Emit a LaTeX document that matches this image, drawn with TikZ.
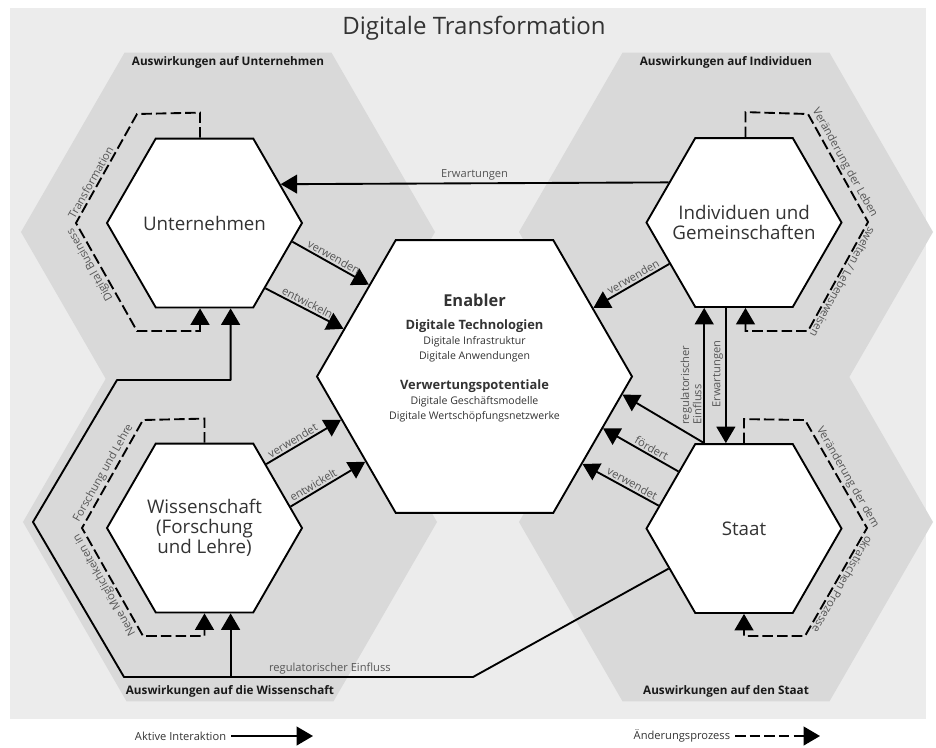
\documentclass[tikz,border=0pt]{standalone}
\usepackage{fontspec}
\setmainfont{Open Sans}
\usepackage{tikz}
\usetikzlibrary{arrows.meta}
\usetikzlibrary{calc}
\usetikzlibrary{shapes.geometric,positioning}

\definecolor{bgback}{HTML}{ECECEC}
\definecolor{bggroup}{HTML}{D9D9D9}
\definecolor{txtdark}{HTML}{333333}
\definecolor{txtlight}{HTML}{555555}

\begin{document}
\begin{tikzpicture}[
        x=0.03cm, y=-0.03cm,
        group/.style={regular polygon, regular polygon sides=6, minimum size=12.42cm, inner sep=0pt, fill=bggroup},
        actor/.style={regular polygon, regular polygon sides=6, minimum size=5.85cm, inner sep=0pt, draw, line width=1.6pt, fill=white},
        acttext/.style={align=center, text=txtdark, font=\fontsize{16}{17}\selectfont},
        enabler/.style={regular polygon, regular polygon sides=6, minimum size=9.45cm, inner sep=0pt, draw, line width=1.6pt, fill=white},
        grouplabel/.style={font=\fontsize{10}{12}\selectfont\bfseries, text=black!90},
        arrow/.style={-{Triangle[width=16pt,length=14pt]}, line width=1.6pt},
        change/.style={-{Triangle[width=16pt,length=14pt]}, line width=1.6pt, dash pattern=on 9pt off 3.5pt},
        lbl/.style={font=\fontsize{9.5}{10.5}\selectfont, text=txtlight, inner sep=1.5pt},
    ]
        % background and frame
        \useasboundingbox (0,0) rectangle (936,747);
        \fill[bgback] (10,8) rectangle (926,719);
        \node[font=\fontsize{20.5}{24}\selectfont, text=txtdark] (title) at (474,28) {Digitale Transformation};

        % areas of impact
        \node[group] (gunt) at (228,232) {};
        \node[group] (gind) at (726,232) {};
        \node[group] (gwis) at (230,522) {};
        \node[group] (gsta) at (726,522) {};
        \node[grouplabel, below=0pt of gunt.north] (lunt) {Auswirkungen auf Unternehmen};
        \node[grouplabel, below=0pt of gind.north] (lind) {Auswirkungen auf Individuen};
        \node[grouplabel, above=0pt of gwis.south] (lwis) {Auswirkungen auf die Wissenschaft};
        \node[grouplabel, above=0pt of gsta.south] (lsta) {Auswirkungen auf den Staat};

        % actors
        \node[actor, label={[acttext]center:Unternehmen}] (unt) at (204.5,223) {};
        \node[actor, label={[acttext]center:{Individuen und\\Gemeinschaften}}] (ind) at (744,222.5) {};
        \node[actor, label={[acttext]center:{Wissenschaft\\(Forschung\\und Lehre)}}] (wis) at (204.5,528) {};
        \node[actor, label={[acttext]center:Staat}] (sta) at (744,528.5) {};

        % enabler in the middle
        \node[enabler] (ena) at (474.5,376.5) {};
        \node[align=center, text=txtdark, font=\fontsize{9}{12.8}\selectfont] (enatxt) at (474.5,358) {%
            {\fontsize{14}{16}\selectfont\bfseries Enabler}\\[7pt]
            {\fontsize{11}{13}\selectfont\bfseries Digitale Technologien}\\
            Digitale Infrastruktur\\
            Digitale Anwendungen\\[13pt]
            {\fontsize{11}{13}\selectfont\bfseries Verwertungspotentiale}\\
            Digitale Geschäftsmodelle\\
            Digitale Wertschöpfungsnetzwerke};

        % active interaction
        \draw[arrow] (unt.-12.9) -- node[lbl, above, sloped] {verwenden} (ena.139.6);
        \draw[arrow] (unt.-47.1) -- node[lbl, above, sloped] {entwickeln} (ena.160.7);
        \draw[arrow] (wis.46.1) -- node[lbl, above, sloped, pos=0.4] {verwendet} (ena.198.7);
        \draw[arrow] (wis.14.1) -- node[lbl, above, sloped, pos=0.35] {entwickelt} (ena.218.7);
        \draw[arrow] (ind.152.1) -- node[lbl, above] {Erwartungen} (unt.27);
        \draw[arrow] (ind.209.3) -- node[lbl, above, sloped, pos=0.43] {verwenden} (ena.30.4);
        \draw[arrow] (sta.139.4) -- node[lbl, above, sloped, pos=0.4] {fördert} (ena.-22.2);
        \draw[arrow] (sta.165.3) -- node[lbl, above, sloped, pos=0.39] {verwendet} (ena.-39.2);
        \draw[arrow] (sta.north -| ind.245.2) -- node[lbl, rotate=90, anchor=south, align=left, pos=0.43] {regulatorischer\\Einfluss} (ind.245.2);
        \draw[arrow] (sta.north -| ind.245.2) -- (ena.-7.9);
        \draw[arrow] (ind.258) -- node[lbl, rotate=90, anchor=south, pos=0.49] {Erwartungen} (ind.258 |- sta.north);

        % regulation from the state
        \coordinate (rb) at (473,677);
        \coordinate (rt) at (117,380);
        \draw[arrow, line join=round] (sta.208.4) -- (rb) -- node[lbl, above, pos=0.41] {regulatorischer Einfluss} (124,677)
            -- (33,522) -- (rt) -- (unt.-73.7 |- rt) -- (unt.-73.7);
        \draw[arrow] (wis.-73.1 |- rb) -- (wis.-73.1);

        % change processes
        \draw[change] (unt.93.7) -- ++(0,-25) -- (137,114)
            -- node[lbl, pos=0.66, rotate=60.8, anchor=south] {Transformation} (76,223)
            -- node[lbl, pos=0.35, rotate=119.5, anchor=south] {Digital Business} (137,331)
            -- (unt.-93.7 |- 0,331) -- (unt.-93.7);
        \draw[change] (ind.89.3) -- ++(0,-25) -- (808,114)
            -- node[lbl, pos=0.49, rotate=-61, anchor=south] {Veränderung der Leben} (868,222)
            -- node[lbl, pos=0.52, rotate=241.2, anchor=south] {swelten / Lebensweisen} (808,331)
            -- (ind.-89.3 |- 0,331) -- (ind.-89.3);
        \draw[change] (wis.north) -- ++(0,-24) -- (143,420)
            -- node[lbl, pos=0.53, rotate=60.5, anchor=south] {Forschung und Lehre} (82,528)
            -- node[lbl, pos=0.49, rotate=119.5, anchor=south] {Neue Möglichkeiten in} (143,636)
            -- (wis.south |- 0,636) -- (wis.south);
        \draw[change] (sta.90.7) -- ++(0,-24) -- (805,420)
            -- node[lbl, pos=0.57, rotate=-60.1, anchor=south] {Veränderung der dem} (867,528)
            -- node[lbl, pos=0.49, rotate=240.1, anchor=south] {okratischen Prozesse} (805,636)
            -- (sta.-90.7 |- 0,636) -- (sta.-90.7);

        % legend
        \node[lbl, anchor=east, text=txtdark, inner sep=4pt] (legact) at (231,736) {Aktive Interaktion};
        \coordinate (legactend) at (313,736);
        \draw[arrow] (legact.east) -- (legactend);
        \node[lbl, anchor=east, text=txtdark, inner sep=4pt] (legchg) at (735,736) {Änderungsprozess};
        \coordinate (legchgend) at (820,736);
        \draw[change] (legchg.east) -- (legchgend);
\end{tikzpicture}
\end{document}
